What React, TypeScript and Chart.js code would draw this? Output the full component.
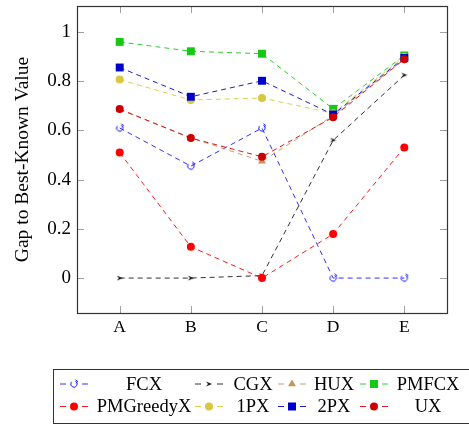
import React, { useEffect, useRef } from "react";
import { Chart, registerables } from "chart.js";

Chart.register(...registerables);

const categories = ["A", "B", "C", "D", "E"];
const yTicks = [0, 0.2, 0.4, 0.6, 0.8, 1];

const seriesNames = ["FCX", "CGX", "HUX", "PMFCX", "PMGreedyX", "1PX", "2PX", "UX"];
const fcx = [0.61, 0.455, 0.61, 0.0, 0.0];
const cgx = [0.0, 0.0, 0.01, 0.56, 0.825];
const hux = [0.685, 0.57, 0.475, 0.66, 0.89];
const pmfcx = [0.96, 0.922, 0.912, 0.688, 0.905];
const pmgreedyx = [0.51, 0.127, 0.0, 0.179, 0.531];
const onepx = [0.807, 0.724, 0.732, 0.67, 0.9];
const twopx = [0.856, 0.737, 0.802, 0.665, 0.895];
const ux = [0.687, 0.569, 0.493, 0.654, 0.89];

const seriesValues = [fcx, cgx, hux, pmfcx, pmgreedyx, onepx, twopx, ux];
const seriesColors = ["#1a1aff", "#1a1a1a", "#c8925a", "#14c814", "#ff0000", "#d8c840", "#0000cc", "#cc0000"];
const seriesMarkers = ["fcx", "cgx", "triangle", "rect", "circle", "circle", "rect", "circle"];

const SERIF = "'Liberation Serif', 'Times New Roman', serif";

function makeFcxMarker(color: string) {
  const c = document.createElement("canvas");
  c.width = 10;
  c.height = 10;
  const ctx = c.getContext("2d")!;
  ctx.strokeStyle = color;
  ctx.lineWidth = 1;
  ctx.beginPath();
  ctx.arc(5, 5, 3.2, -Math.PI * 0.35, Math.PI * 1.25);
  ctx.stroke();
  ctx.beginPath();
  ctx.moveTo(6.5, 0.8);
  ctx.lineTo(8.6, 2.2);
  ctx.lineTo(7.0, 4.2);
  ctx.stroke();
  return c;
}

function makeCgxMarker(color: string) {
  const c = document.createElement("canvas");
  c.width = 10;
  c.height = 10;
  const ctx = c.getContext("2d")!;
  ctx.strokeStyle = color;
  ctx.fillStyle = color;
  ctx.lineWidth = 1;
  ctx.beginPath();
  ctx.moveTo(2, 2.5);
  ctx.lineTo(8, 5);
  ctx.lineTo(2, 7.5);
  ctx.lineTo(4, 5);
  ctx.closePath();
  ctx.fill();
  return c;
}

export default function App() {
  const ref = useRef<HTMLCanvasElement>(null);

  useEffect(() => {
    if (!ref.current) return;
    const markers: any[] = seriesMarkers.map((m, i) => {
      if (m === "fcx") return makeFcxMarker(seriesColors[i]);
      if (m === "cgx") return makeCgxMarker(seriesColors[i]);
      return m;
    });
    const radii = seriesMarkers.map((m) => (m === "rect" ? 5.6 : m === "triangle" ? 4.6 : 4));

    const datasets = seriesNames.map((name, i) => ({
      label: name,
      data: seriesValues[i].map((v, j) => ({ x: j, y: v })),
      borderColor: seriesColors[i],
      backgroundColor: seriesColors[i],
      borderWidth: 0.9,
      borderDash: [5, 4],
      pointStyle: markers[i],
      pointRadius: radii[i],
      pointBorderWidth: 0,
      pointBackgroundColor: seriesColors[i],
      pointBorderColor: seriesColors[i],
      order: seriesNames.length - i,
      tension: 0,
    }));

    const framePlugin = {
      id: "frameAndLegend",
      afterDraw(chart: any) {
        const ctx = chart.ctx;
        const xs = chart.scales.x;
        const ys = chart.scales.y;
        const { left, right, top, bottom } = chart.chartArea;
        ctx.save();
        // tick marks
        ctx.strokeStyle = "#a0a0a0";
        ctx.lineWidth = 1;
        ctx.beginPath();
        categories.forEach((_, j) => {
          const px = Math.round(xs.getPixelForValue(j)) + 0.5;
          ctx.moveTo(px, bottom);
          ctx.lineTo(px, bottom - 7);
          ctx.moveTo(px, top);
          ctx.lineTo(px, top + 7);
        });
        yTicks.forEach((v) => {
          const py = Math.round(ys.getPixelForValue(v)) + 0.5;
          ctx.moveTo(left, py);
          ctx.lineTo(left + 7, py);
          ctx.moveTo(right, py);
          ctx.lineTo(right - 7, py);
        });
        ctx.stroke();
        // frame
        ctx.strokeStyle = "#333333";
        ctx.lineWidth = 1.2;
        ctx.strokeRect(left + 0.5, top + 0.5, right - left, bottom - top);

        // legend
        const boxL = 53.5;
        const boxT = 369.5;
        ctx.strokeStyle = "#333333";
        ctx.lineWidth = 1;
        ctx.strokeRect(boxL, boxT, 470 - boxL, 54);
        const sampleX = [60, 195, 278, 360];
        const textX = [144, 253, 334, 428];
        const rowY = [384, 406.5];
        ctx.font = `18.5px ${SERIF}`;
        ctx.textAlign = "center";
        ctx.textBaseline = "middle";
        seriesNames.forEach((name, i) => {
          const col = i % 4;
          const row = Math.floor(i / 4);
          const sx = sampleX[col];
          const y = rowY[row];
          const color = seriesColors[i];
          ctx.strokeStyle = color;
          ctx.lineWidth = 0.9;
          ctx.setLineDash([]);
          ctx.beginPath();
          ctx.moveTo(sx, y);
          ctx.lineTo(sx + 6, y);
          ctx.moveTo(sx + 22, y);
          ctx.lineTo(sx + 28, y);
          ctx.stroke();
          const mx = sx + 14;
          const m = markers[i];
          ctx.fillStyle = color;
          if (typeof m !== "string") {
            ctx.drawImage(m, mx - 5, y - 5);
          } else if (m === "circle") {
            ctx.beginPath();
            ctx.arc(mx, y, 4, 0, Math.PI * 2);
            ctx.fill();
          } else if (m === "rect") {
            ctx.fillRect(mx - 4, y - 4, 8, 8);
          } else if (m === "triangle") {
            ctx.beginPath();
            ctx.moveTo(mx, y - 4.6);
            ctx.lineTo(mx + 4, y + 2.3);
            ctx.lineTo(mx - 4, y + 2.3);
            ctx.closePath();
            ctx.fill();
          }
          ctx.fillStyle = "#000";
          ctx.fillText(name, textX[col], y + 1);
        });
        ctx.restore();
      },
    };

    const chart = new Chart(ref.current, {
      type: "line",
      data: { datasets },
      options: {
        animation: false,
        responsive: false,
        devicePixelRatio: 1,
        parsing: false as any,
        layout: { padding: { left: 0, top: 6, right: 22, bottom: 83 } },
        plugins: { legend: { display: false }, tooltip: { enabled: false } },
        scales: {
          x: {
            type: "linear",
            min: -0.6,
            max: 4.6,
            grid: { display: false, drawTicks: false },
            border: { display: false },
            afterBuildTicks(scale: any) {
              scale.ticks = categories.map((_, j) => ({ value: j }));
            },
            afterFit(scale: any) {
              scale.height = 30;
              scale.paddingLeft = 0;
              scale.paddingRight = 0;
              scale.paddingTop = 0;
              scale.paddingBottom = 0;
            },
            ticks: {
              color: "#000",
              padding: 4,
              font: { family: SERIF, size: 17.5 },
              callback: (v: any) => categories[Math.round(Number(v))] ?? "",
              maxRotation: 0,
              autoSkip: false,
            },
          },
          y: {
            type: "linear",
            min: -0.142,
            max: 1.106,
            grid: { display: false, drawTicks: false },
            border: { display: false },
            afterBuildTicks(scale: any) {
              scale.ticks = yTicks.map((v) => ({ value: v }));
            },
            afterFit(scale: any) {
              scale.width = 77;
              scale.paddingLeft = 0;
              scale.paddingRight = 0;
              scale.paddingTop = 0;
              scale.paddingBottom = 0;
            },
            ticks: {
              color: "#000",
              padding: 6,
              font: { family: SERIF, size: 19 },
              callback: (v: any) => String(Math.round(Number(v) * 10) / 10),
            },
            title: {
              display: true,
              text: "Gap to Best-Known Value",
              color: "#000",
              font: { family: SERIF, size: 19.5 },
              padding: { top: 11, bottom: 0 },
            },
          },
        },
      },
      plugins: [framePlugin],
    });
    return () => chart.destroy();
  }, []);

  return (
    <div style={{ position: "absolute", left: 0, top: 0, width: 469, height: 426, background: "#fff" }}>
      <canvas ref={ref} width={469} height={426} style={{ width: 469, height: 426, display: "block" }} />
    </div>
  );
}
